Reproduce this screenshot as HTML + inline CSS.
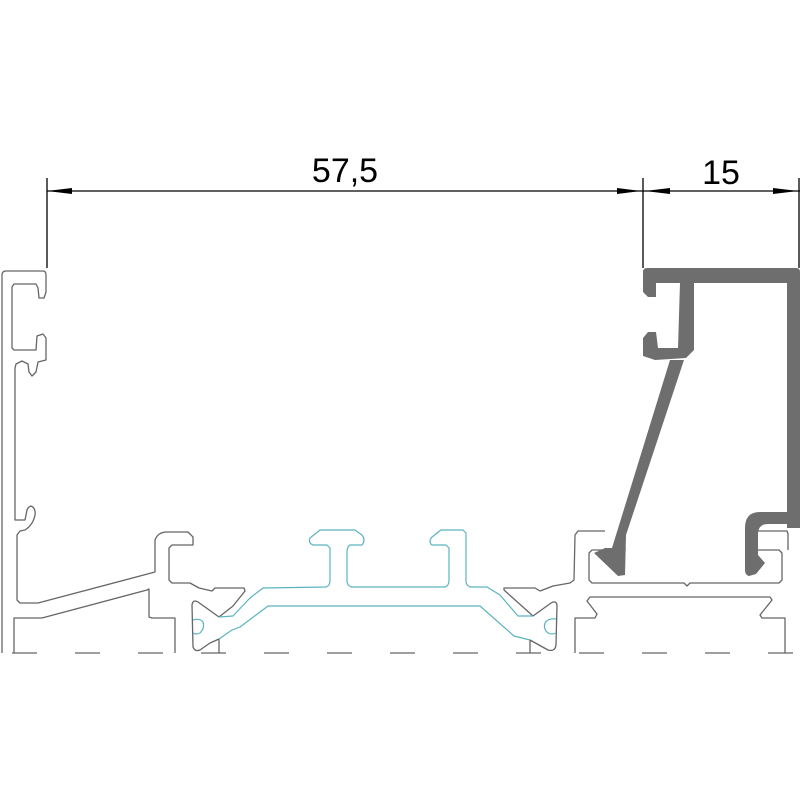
<!DOCTYPE html>
<html><head><meta charset="utf-8"><style>html,body{margin:0;padding:0;background:#fff}svg{display:block}</style></head>
<body>
<svg width="800" height="800" viewBox="0 0 800 800" xmlns="http://www.w3.org/2000/svg">
<rect width="800" height="800" fill="#fff"/>
<g stroke="#000" stroke-width="1.3" fill="none">
<line x1="47" y1="191" x2="800" y2="191"/>
<line x1="47" y1="178" x2="47" y2="268"/>
<line x1="643" y1="178" x2="643" y2="268"/>
<line x1="799" y1="178" x2="799" y2="268"/>
</g>
<g fill="#000">
<polygon points="47,191 72,188 72,194"/>
<polygon points="641,191 617,188 617,194"/>
<polygon points="645,191 670,188 670,194"/>
<polygon points="798,191 773,188 773,194"/>
</g>
<text x="345" y="182" font-family="Liberation Sans, sans-serif" font-size="34" text-anchor="middle" fill="#000">57,5</text>
<text x="721" y="184" font-family="Liberation Sans, sans-serif" font-size="34" text-anchor="middle" fill="#000">15</text>
<line x1="0" y1="653" x2="800" y2="653" stroke="#666" stroke-width="1.3" stroke-dasharray="25 38" stroke-dashoffset="51"/>
<g stroke="#666" stroke-width="1.3" fill="none" stroke-linejoin="round">
<path d="M2,653 L2,275 Q2,271 6,271 L43,271 Q46,271 46,275 L46,292 L44,298 L39,298 L38,288 L36,284 L14,284 L12,287 L12,348 L14,350 L36,350 L37,336 L43,334 L46,338 L46,360 L38,362 L36,372 L32,376 L29,372 L28,364 L22,361 L16,364 L15,368 L15,520 L25,520 L27,510 Q28,507 31,506 Q36,508 35,515 Q33,525 25,530 L20,531 L17,535 L17,600 L20,603 L38,603 L155,572 L155,540 Q158,532 167,532 L188,532 L193,537 L193,545 L172,545 L169,548 L169,580 L172,583 L190,583 L199,588 L212,591 L215,588 L244,588 L245,591 L233,606 L219,617"/>
<path d="M14,653 L14,618 L42,618 L147,590 L149,589 L149,617 L152,618 L175,618 L175,653"/>
<path d="M219,617 L198,602 Q193,599 192,605 L193,647 Q195,652 200,650 L210,643 L219,639 L219,653"/>
<path d="M530,653 L530,640 L548,650 Q555,652 556,645 L557,605 Q556,600 551,603 L533,616 L504,590 L504,588 L535,588 L540,591 L553,586 L570,583 L574,580 L575,535 L578,531 L605,531"/>
<path d="M625,548 L625,550 L592,550 L589,553 L589,580 L592,583 L684,583 L687,586 L690,583 L779,583 L782,580 L782,553 L779,550 L758,550"/>
<path d="M758,531 L787,531 L788,534 L788,550"/>
<path d="M575,653 L575,618 L595,618 L597,614 L587,601 L590,597 L770,597 L772,600 L760,615 L762,618 L785,618 L785,653"/>
</g>
<g stroke="#5ab4c0" stroke-width="1.2" fill="none" stroke-linejoin="round">
<path d="M219,617 L233,616 L250,598 L263,588 L326,587 Q330,586 330,580 L330,548 L327,545 L313,545 Q308,543 310,538 L320,530 L355,530 L362,535 Q366,540 362,545 L350,545 Q347,547 347,552 L347,582 Q348,587 353,587 L445,587 Q449,586 449,580 L449,548 L446,545 L432,545 Q428,542 432,537 L441,530 L463,530 L466,533 L466,582 Q467,587 472,587 L487,587 L500,595 L518,616 L533,616"/>
<path d="M219,639 L232,630 L240,627 L268,606 L480,606 L514,636 L530,640"/>
<path d="M193,620 Q200,618 203,622 Q205,628 200,633 Q196,635 193,633"/>
<path d="M556,619 Q548,618 545,623 Q543,629 548,633 Q552,635 556,633"/>
</g>
<g fill="#6e6e6e">
<path d="M643,272 Q643,268 647,268 L796,268 Q800,268 800,272 L800,528 L787,528 L787,524 L768,524 Q758,524 758,534 L758,555 L765,563 L756,574 L749,576 Q745,575 745,570 L745,528 Q745,512 760,512 L787,512 L787,283 L694,283 L694,350 L686,358 L655,360 L643,356 L643,338 L648,332 L656,332 L658,348 L678,348 L680,283 L656,283 L656,297 L648,297 L643,292 Z"/>
<polygon points="670,360 684,360 626,535 625,575 618,576 594,553 605,548 612,548"/>
</g>
</svg>
</body></html>
